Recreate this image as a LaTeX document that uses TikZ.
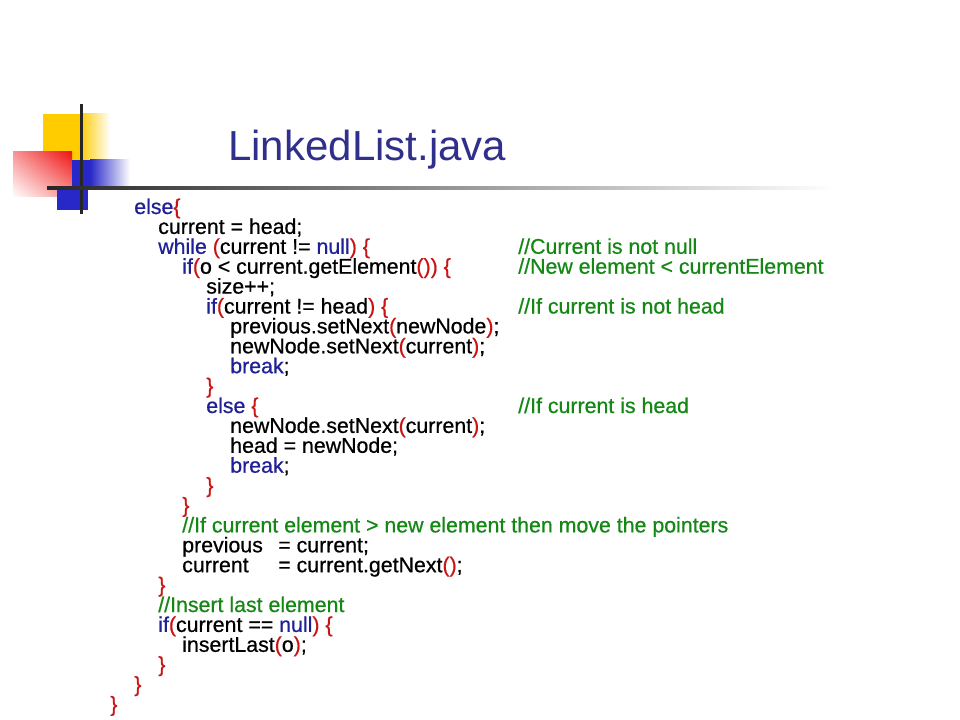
\documentclass[tikz,border=0pt]{standalone}
\usepackage{fontspec}
\setmainfont{Liberation Sans}
\newfontfamily\codefont{Liberation Sans}[FakeBold=0.6]
\usetikzlibrary{shadings}
\definecolor{kwblue}{RGB}{32,32,150}
\definecolor{brred}{RGB}{200,20,20}
\definecolor{cmgreen}{RGB}{20,135,20}
\definecolor{titleblue}{RGB}{48,48,140}
\definecolor{decoyellow}{RGB}{255,204,0}
\definecolor{decoblue}{RGB}{40,40,200}
\definecolor{decored}{RGB}{240,20,20}
\newcommand{\kw}[1]{\textcolor{kwblue}{#1}}
\newcommand{\rd}[1]{\textcolor{brred}{#1}}
\newcommand{\cm}[1]{\textcolor{cmgreen}{#1}}
\tikzset{
  codeline/.style={anchor=base west, inner sep=0pt, font=\codefont\fontsize{16}{19}\selectfont, text=black},
  cmline/.style={codeline, text=cmgreen},
  titletext/.style={anchor=base west, inner sep=0pt, font=\fontsize{31.5}{36}\selectfont, text=titleblue}
}
\begin{document}
\begin{tikzpicture}[x=0.75pt,y=-0.75pt]
\useasboundingbox[fill=white] (0,0) rectangle (960,720);
% decoration
\fill[decoyellow] (43,114) rectangle (80,160);
\shade[left color=decoyellow, right color=white] (80,114) rectangle (110,160);
\shade[upper right=decored, lower right=decored!45!white, upper left=decored!45!white, lower left=white] (13,152) rectangle (72,197);
\fill[decoblue] (72,160) rectangle (90,188);
\shade[left color=decoblue, right color=white] (90,160) rectangle (130,188);
\fill[decoblue] (57,188) rectangle (88,210);
\fill[black!85] (79.5,104) rectangle (82.5,214);
\shade[left color=black!85, right color=white] (47,186.5) rectangle (835,189.5);
% title
\node[titletext] (title) at (228,161) {LinkedList.java};
% code
\node[codeline] (l0) at (134,214) {\kw{else}\rd{\{}};
\node[codeline] (l1) at (158,233.9) {current = head;};
\node[codeline] (l2) at (158,253.8) {\kw{while} \rd{(}current != \kw{null}\rd{)} \rd{\{}};
\node[cmline] (c2) at (518,253.8) {//Current is not null};
\node[codeline] (l3) at (182,273.7) {\kw{if}\rd{(}o < current.getElement\rd{())} \rd{\{}};
\node[cmline] (c3) at (518,273.7) {//New element < currentElement};
\node[codeline] (l4) at (206,293.6) {size++;};
\node[codeline] (l5) at (206,313.5) {\kw{if}\rd{(}current != head\rd{)} \rd{\{}};
\node[cmline] (c5) at (518,313.5) {//If current is not head};
\node[codeline] (l6) at (230,333.4) {previous.setNext\rd{(}newNode\rd{)};};
\node[codeline] (l7) at (230,353.3) {newNode.setNext\rd{(}current\rd{)};};
\node[codeline] (l8) at (230,373.2) {\kw{break};};
\node[codeline] (l9) at (206,393.1) {\rd{\}}};
\node[codeline] (l10) at (206,413.0) {\kw{else} \rd{\{}};
\node[cmline] (c10) at (518,413.0) {//If current is head};
\node[codeline] (l11) at (230,432.9) {newNode.setNext\rd{(}current\rd{)};};
\node[codeline] (l12) at (230,452.8) {head = newNode;};
\node[codeline] (l13) at (230,472.7) {\kw{break};};
\node[codeline] (l14) at (206,492.6) {\rd{\}}};
\node[codeline] (l15) at (182,512.5) {\rd{\}}};
\node[cmline] (l16) at (182,532.4) {//If current element > new element then move the pointers};
\node[codeline] (l17) at (182,552.3) {previous};
\node[codeline] (l17b) at (278,552.3) {= current;};
\node[codeline] (l18) at (182,572.2) {current};
\node[codeline] (l18b) at (278,572.2) {= current.getNext\rd{()};};
\node[codeline] (l19) at (158,592.1) {\rd{\}}};
\node[cmline] (l20) at (158,612.0) {//Insert last element};
\node[codeline] (l21) at (158,631.9) {\kw{if}\rd{(}current == \kw{null}\rd{)} \rd{\{}};
\node[codeline] (l22) at (182,651.8) {insertLast\rd{(}o\rd{)};};
\node[codeline] (l23) at (158,671.7) {\rd{\}}};
\node[codeline] (l24) at (134,691.6) {\rd{\}}};
\node[codeline] (l25) at (110,711.5) {\rd{\}}};
\end{tikzpicture}
\end{document}
